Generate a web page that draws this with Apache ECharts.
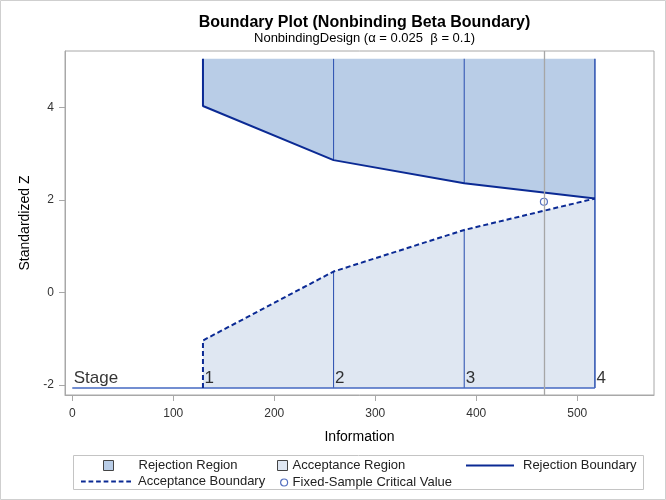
<!DOCTYPE html>
<html>
<head>
<meta charset="utf-8">
<script src="https://cdn.jsdelivr.net/npm/echarts@6/dist/echarts.min.js"></script>
<style>
html,body{margin:0;padding:0;background:#fff;}
#chart{width:666px;height:500px;}
</style>
</head>
<body>
<div id="chart"></div>
<script>
// ---- data ----
const stageInfo = [129.4, 258.7, 388.1, 517.5];
const rejectZ = [4.03, 2.86, 2.36, 2.03];
const acceptZ = [-1.04, 0.45, 1.35, 2.03];
const stageLabels = ['1', '2', '3', '4'];
const fixedInfo = [467];
const fixedZ = [1.96];
const zTop = 5.05;
const zStage = -2.07;
const xTicks = [0, 100, 200, 300, 400, 500];
const yTicks = [-2, 0, 2, 4];

// ---- derived ----
const n = stageInfo.length;
const rejPoly = [[stageInfo[0], zTop]].concat(stageInfo.map((x, i) => [x, rejectZ[i]])).concat([[stageInfo[n - 1], zTop]]);
const accPoly = [[stageInfo[0], zStage]].concat(stageInfo.map((x, i) => [x, acceptZ[i]])).concat([[stageInfo[n - 1], zStage]]);
const rejLine = [[stageInfo[0], zTop]].concat(stageInfo.map((x, i) => [x, rejectZ[i]]));
const accLine = [[stageInfo[0], zStage]].concat(stageInfo.map((x, i) => [x, acceptZ[i]]));
const segs = [];
for (let i = 1; i < n; i++) {
  if (i === n - 1) { segs.push([stageInfo[i], zStage, zTop]); }
  else {
    segs.push([stageInfo[i], rejectZ[i], zTop]);
    segs.push([stageInfo[i], zStage, acceptZ[i]]);
  }
}
const labelData = [[0, zStage, 'Stage']].concat(stageInfo.map((x, i) => [x, zStage, stageLabels[i]]));

const DARK = '#0b2a94';
const MID = '#3559b4';
const FONT = '"Liberation Sans", Arial, sans-serif';

// legend line icons as thin filled paths
const solidIcon = 'path://M0,0h48v2h-48z';
let dashPath = 'path://';
for (let x = 0; x < 50; x += 8) dashPath += 'M' + x + ',0h5v2h-5z';

function polyRender(poly, fill) {
  return function (params, api) {
    return { type: 'polygon', shape: { points: poly.map(p => api.coord(p)) }, style: { fill: fill }, silent: true };
  };
}

const legendText = { fontFamily: FONT, fontSize: 13, color: '#222' };
function leg(name, left, top, w, h, pad, extra) {
  return {
    left: left, top: top, padding: 0, itemWidth: w, itemHeight: h, selectedMode: false,
    data: [Object.assign({ name: name }, extra || {})],
    textStyle: Object.assign({ padding: [0, 0, 0, pad] }, legendText)
  };
}

const chart = echarts.init(document.getElementById('chart'), null, { renderer: 'canvas' });
chart.setOption({
  animation: false,
  textStyle: { fontFamily: FONT },
  title: [
    { text: 'Boundary Plot (Nonbinding Beta Boundary)', left: 359.5, textAlign: 'center', top: 10,
      textStyle: { fontFamily: FONT, fontSize: 16, fontWeight: 'bold', color: '#000' } },
    { text: 'NonbindingDesign (α = 0.025  β = 0.1)', left: 359.5, textAlign: 'center', top: 27,
      textStyle: { fontFamily: FONT, fontSize: 13, fontWeight: 'normal', color: '#000' } }
  ],
  grid: { left: 65, right: 12, top: 51, bottom: 105, show: true, borderColor: '#a8a8a8', borderWidth: 1, backgroundColor: 'transparent' },
  xAxis: {
    type: 'value', min: -7.2, max: 576,
    name: 'Information', nameLocation: 'middle', nameGap: 35,
    nameTextStyle: { fontFamily: FONT, fontSize: 14, color: '#000' },
    axisLine: { show: true, onZero: false, lineStyle: { color: '#a8a8a8' } },
    axisTick: { show: true, length: 6, customValues: xTicks, lineStyle: { color: '#a8a8a8' } },
    axisLabel: { customValues: xTicks, fontFamily: FONT, fontSize: 12, color: '#333', margin: 13 },
    splitLine: { show: false }
  },
  yAxis: {
    type: 'value', min: -2.22, max: 5.22,
    name: 'Standardized Z', nameLocation: 'middle', nameGap: 30, nameRotate: 90,
    nameTextStyle: { fontFamily: FONT, fontSize: 14, color: '#000' },
    axisLine: { show: true, onZero: false, lineStyle: { color: '#a8a8a8' } },
    axisTick: { show: true, length: 6, customValues: yTicks, lineStyle: { color: '#a8a8a8' } },
    axisLabel: { customValues: yTicks, fontFamily: FONT, fontSize: 12, color: '#333', margin: 11 },
    splitLine: { show: false }
  },
  legend: [
    leg('Rejection Region', 103, 459, 10, 10, 20, { icon: 'rect', itemStyle: { color: '#b9cde7', borderColor: '#444', borderWidth: 1 } }),
    leg('Acceptance Region', 277, 459, 10, 10, 0, { icon: 'rect', itemStyle: { color: '#dfe7f2', borderColor: '#444', borderWidth: 1 } }),
    leg('Rejection Boundary', 466, 459, 48, 10, 4, { icon: solidIcon, itemStyle: { color: DARK, borderWidth: 0 } }),
    leg('Acceptance Boundary', 81, 475, 50, 10, 2, { icon: dashPath, itemStyle: { color: DARK, borderWidth: 0 } }),
    leg('Fixed-Sample Critical Value', 280, 476, 7, 7, 0, { icon: 'circle', itemStyle: { color: '#fff', borderColor: '#2a4cb0', borderWidth: 1.2 } })
  ],
  graphic: [
    { type: 'rect', shape: { x: 0.5, y: 0.5, width: 665, height: 499 }, style: { fill: 'none', stroke: '#cfcfcf', lineWidth: 1 }, z: -10, silent: true },
    { type: 'rect', shape: { x: 73.5, y: 455.5, width: 570, height: 34 }, style: { fill: 'none', stroke: '#c4c4c4', lineWidth: 1 }, z: -10, silent: true }
  ],
  series: [
    { name: 'Rejection Region', type: 'custom', z: 1, data: [0], renderItem: polyRender(rejPoly, '#b9cde7'), itemStyle: { color: '#b9cde7' } },
    { name: 'Acceptance Region', type: 'custom', z: 1, data: [0], renderItem: polyRender(accPoly, '#dfe7f2'), itemStyle: { color: '#dfe7f2' },
      markLine: { silent: true, symbol: 'none', label: { show: false }, lineStyle: { color: '#a6a6a6', type: 'solid', width: 1.3 },
        data: fixedInfo.map(v => ({ xAxis: v })) } },
    { name: 'stages', type: 'custom', z: 2, silent: true, data: segs, encode: { x: 0, y: [1, 2] },
      renderItem: function (params, api) {
        const p1 = api.coord([api.value(0), api.value(1)]);
        const p2 = api.coord([api.value(0), api.value(2)]);
        return { type: 'line', shape: { x1: p1[0], y1: p1[1], x2: p2[0], y2: p2[1] }, style: { stroke: MID, lineWidth: params.dataIndex === segs.length - 1 ? 1.6 : 1.1 } };
      } },
    { name: 'baseline', type: 'line', z: 2, silent: true, symbol: 'none', data: [[0, zStage], [stageInfo[n - 1], zStage]],
      lineStyle: { color: '#4468c2', width: 1.5 } },
    { name: 'Rejection Boundary', type: 'line', z: 3, symbol: 'none', data: rejLine, color: DARK,
      lineStyle: { color: DARK, width: 2 } },
    { name: 'Acceptance Boundary', type: 'line', z: 3, symbol: 'none', data: accLine, color: DARK,
      lineStyle: { color: DARK, width: 2, type: [5, 3] } },
    { name: 'Fixed-Sample Critical Value', type: 'scatter', z: 4, symbol: 'circle', symbolSize: 7,
      data: fixedInfo.map((x, i) => [x, fixedZ[i]]),
      itemStyle: { color: '#fff', borderColor: '#2a4cb0', borderWidth: 1.2 } },
    { name: 'labels', type: 'scatter', z: 4, silent: true, symbolSize: 1, itemStyle: { color: 'transparent' },
      data: labelData,
      label: { show: true, formatter: p => p.value[2], position: [2, -1], align: 'left', verticalAlign: 'bottom',
        fontFamily: FONT, fontSize: 17, color: '#000' } }
  ]
});
</script>
</body>
</html>
